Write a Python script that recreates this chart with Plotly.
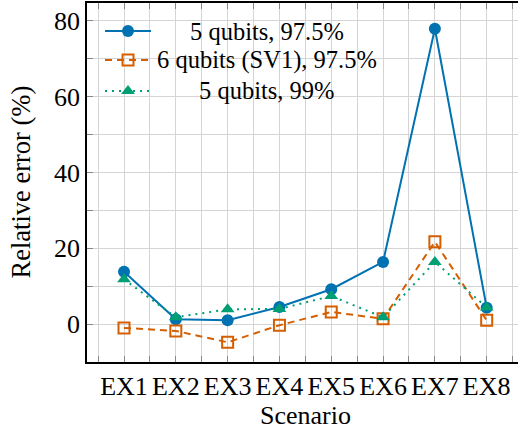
import plotly.graph_objects as go

categories = ["EX1", "EX2", "EX3", "EX4", "EX5", "EX6", "EX7", "EX8"]
cat_pos = [1, 2, 3, 4, 5, 6, 7, 8]
q5_975 = [13.8, 1.3, 1.0, 4.5, 9.2, 16.4, 77.9, 4.3]
q6_sv1_975 = [-1.0, -1.8, -4.8, -0.3, 3.2, 1.4, 21.7, 1.0]
q5_99 = [11.8, 1.8, 3.9, 4.0, 7.4, 1.8, 16.4, 4.4]
series_names = ["5 qubits, 97.5%", "6 qubits (SV1), 97.5%", "5 qubits, 99%"]

BLUE = "#0072B2"
ORANGE = "#D55E00"
GREEN = "#009E73"
FONT = "Liberation Serif"

W, H = 518, 431
L, R, T, B = 87, 518, 3, 362

x_range = [1 - 37 / 51.8, 8 + 31.3 / 51.8]
y_range = [-10, 84.7]


def dx(x):  # pixel -> data x (legend decoration placement)
    return x_range[0] + (x - L) / (R - L) * (x_range[1] - x_range[0])


def dy(y):
    return y_range[0] + (B - y) / (B - T) * (y_range[1] - y_range[0])


def px(x):
    return (x - L) / (R - L)


def py(y):
    return (B - y) / (B - T)


styles = [
    dict(line=dict(color=BLUE, width=2),
         marker=dict(symbol="circle", size=12, color=BLUE)),
    dict(line=dict(color=ORANGE, width=2, dash="7px,5px"),
         marker=dict(symbol="square-open", size=11, color=ORANGE, line=dict(width=2, color=ORANGE))),
    dict(line=dict(color=GREEN, width=2, dash="2px,5px"),
         marker=dict(symbol="triangle-up", size=12, color=GREEN)),
]

fig = go.Figure()
for vals, st in zip([q5_975, q6_sv1_975, q5_99], styles):
    fig.add_trace(go.Scatter(x=cat_pos, y=vals, mode="lines+markers",
                             showlegend=False, cliponaxis=False, **st))

# custom legend: white box + sample lines/markers + centred labels
fig.add_shape(type="rect", xref="paper", yref="paper",
              x0=px(98), x1=px(380), y0=py(113), y1=py(10),
              fillcolor="white", line=dict(width=0), layer="between")
rows = [31, 60, 91]
for name, st, ry in zip(series_names, styles, rows):
    fig.add_trace(go.Scatter(x=[dx(105), dx(151)], y=[dy(ry), dy(ry)], mode="lines",
                             line=st["line"], showlegend=False, hoverinfo="skip"))
    fig.add_trace(go.Scatter(x=[dx(128)], y=[dy(ry)], mode="markers",
                             marker=st["marker"], showlegend=False, hoverinfo="skip"))
    fig.add_annotation(x=px(266.5), y=py(ry), xref="paper", yref="paper", text=name,
                       showarrow=False, xanchor="center", yanchor="middle",
                       font=dict(family=FONT, size=24.5, color="black"))

GRID = "#d4d4d4"
TICK = "#888888"

fig.update_layout(
    width=W, height=H,
    margin=dict(l=L, r=W - R, t=T, b=H - B, pad=0),
    paper_bgcolor="white", plot_bgcolor="white",
    font=dict(family=FONT, size=24, color="black"),
    xaxis=dict(range=x_range, tickvals=cat_pos, ticktext=categories,
               showgrid=True, gridcolor=GRID, gridwidth=1,
               ticks="inside", ticklen=6, tickcolor=TICK, tickwidth=1,
               minor=dict(dtick=0.5, tick0=0.5, showgrid=True, gridcolor=GRID, gridwidth=1,
                          ticks="inside", ticklen=6, tickcolor=TICK),
               showline=True, linecolor="black", linewidth=1.5, mirror="allticks",
               zeroline=False, tickfont=dict(family=FONT, size=26),
               fixedrange=True),
    yaxis=dict(range=y_range, tickvals=[0, 20, 40, 60, 80],
               showgrid=True, gridcolor=GRID, gridwidth=1,
               ticks="inside", ticklen=6, tickcolor=TICK, tickwidth=1,
               minor=dict(dtick=10, tick0=0, showgrid=True, gridcolor=GRID, gridwidth=1,
                          ticks="inside", ticklen=6, tickcolor=TICK),
               showline=True, linecolor="black", linewidth=1.5,
               zeroline=False, tickfont=dict(family=FONT, size=26),
               fixedrange=True),
    yaxis2=dict(range=y_range, overlaying="y", side="right", dtick=10, tick0=0,
                ticks="inside", ticklen=6, tickcolor=TICK, showticklabels=False,
                showgrid=False, showline=False, zeroline=False, fixedrange=True),
)

fig.add_annotation(x=px(305), y=py(415), xref="paper", yref="paper", text="Scenario",
                   showarrow=False, xanchor="center", yanchor="middle",
                   font=dict(family=FONT, size=26))
fig.add_annotation(x=px(20), y=py(182.5), xref="paper", yref="paper", text="Relative error (%)",
                   showarrow=False, xanchor="center", yanchor="middle", textangle=-90,
                   font=dict(family=FONT, size=26.5))

fig.write_html("out.html", config={"displayModeBar": False},
               post_script="document.body.style.margin='0';document.body.style.padding='0';")
